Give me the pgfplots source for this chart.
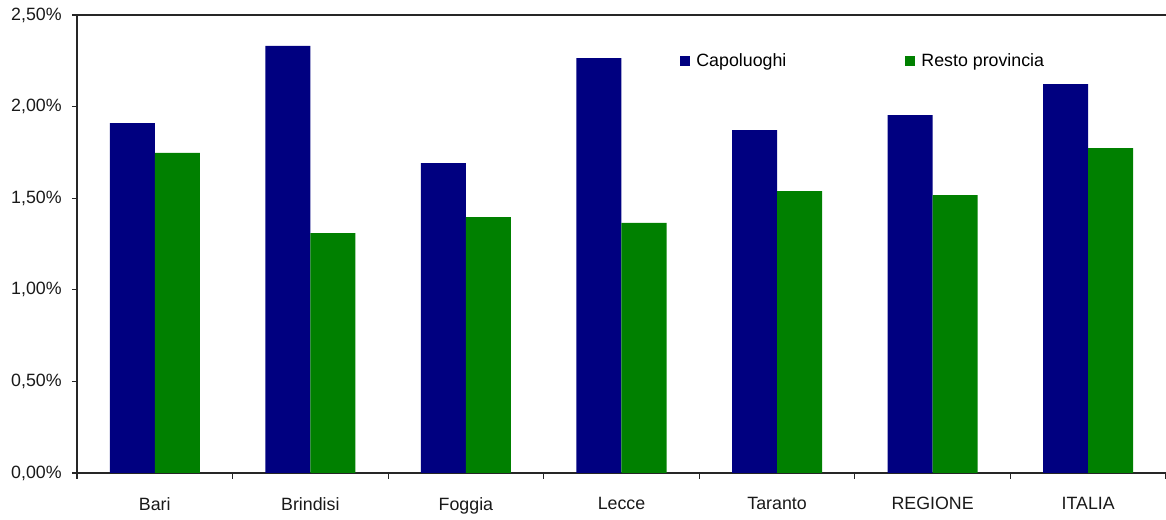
\documentclass[border=0pt]{standalone}
\usepackage{fontspec}
\setmainfont{Liberation Sans}
\usepackage{pgfplots}
\pgfplotsset{compat=1.18}

\definecolor{capblue}{HTML}{000080}
\definecolor{restgreen}{HTML}{008000}

\begin{document}
\fontsize{8.9pt}{10.5pt}\selectfont
\begin{tikzpicture}
\path[use as bounding box] (-38.5pt,-23pt) rectangle (544.5pt,236.5pt);
\begin{axis}[
  at={(0,0)}, anchor=south west,
  scale only axis,
  width=544.5pt, height=229pt,
  ybar=0pt, bar width=22.5pt,
  xmin=-0.5, xmax=6.5,
  ymin=0, ymax=2.5,
  axis x line*=bottom, axis y line*=left,
  axis line style={line width=0.6pt, black!85},
  xtick={0,...,6},
  xticklabels={Bari,Brindisi,Foggia,Lecce,Taranto,REGIONE,ITALIA},
  major x tick style={draw=none},
  minor xtick={-0.5,0.5,...,6.5},
  minor x tick style={line width=0.6pt, black!85},
  minor tick length=3pt,
  xticklabel style={font=\fontsize{8.9pt}{10.5pt}\selectfont, yshift=-6.5pt, text=black!90},
  ytick={0,0.5,...,2.5},
  ytick style={line width=0.6pt, black!85},
  major tick length=2.5pt,
  tick align=outside,
  yticklabel style={font=\fontsize{8.9pt}{10.5pt}\selectfont, text=black!90, xshift=-2pt},
  /pgf/number format/assume math mode=true,
  yticklabel={\pgfmathprintnumber[fixed, fixed zerofill, precision=2, use comma]{\tick}\%},
  legend columns=2,
  legend style={draw=none, fill=none, inner sep=0pt,
    at={(0.5537,0.8995)}, anchor=west,
    font=\fontsize{8.9pt}{10.5pt}\selectfont,
    nodes={inner xsep=3pt},
    /tikz/every even column/.append style={column sep=56.5pt}},
  legend image code/.code={\fill[#1, draw=none] (0pt,-2.5pt) rectangle (5pt,2.5pt);},
  clip=false,
]
\addplot[fill=capblue, draw=none] coordinates {
  (0,1.910) (1,2.331) (2,1.692) (3,2.265) (4,1.872) (5,1.954) (6,2.123)};
\addplot[fill=restgreen, draw=none] coordinates {
  (0,1.747) (1,1.310) (2,1.397) (3,1.365) (4,1.539) (5,1.517) (6,1.774)};
\legend{Capoluoghi,Resto provincia}
\draw[line width=0.6pt, black!85] (rel axis cs:0,1) -- (rel axis cs:1,1);
\end{axis}
\end{tikzpicture}
\end{document}
